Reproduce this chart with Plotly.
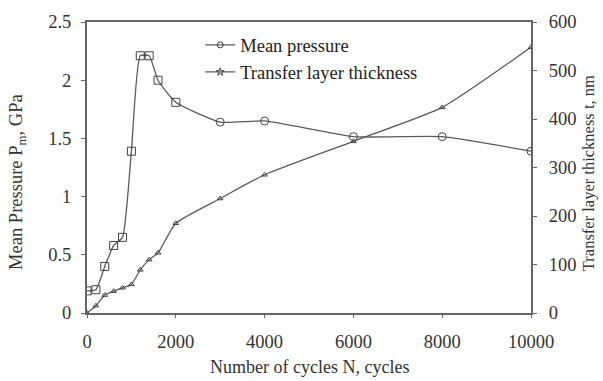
import plotly.graph_objects as go

cycles_p = [0, 200, 400, 600, 800, 1000, 1200, 1400, 1600, 2000, 3000, 4000, 6000, 8000, 10000]
pressure = [0.19, 0.20, 0.40, 0.58, 0.65, 1.39, 2.21, 2.21, 2.00, 1.81, 1.64, 1.65, 1.515, 1.515, 1.39]

cycles_t = [0, 200, 400, 600, 800, 1000, 1200, 1400, 1600, 2000, 3000, 4000, 6000, 8000, 10000]
thickness = [0, 15, 37, 45, 52, 59, 89, 110, 124, 185, 236, 285, 354, 424, 548]

x_ticks = [0, 2000, 4000, 6000, 8000, 10000]
y_ticks = [0, 0.5, 1, 1.5, 2, 2.5]
y_ticktext = ["0", "0.5", "1", "1.5", "2", "2.5"]
y2_ticks = [0, 100, 200, 300, 400, 500, 600]

serif = "Liberation Serif"
line_col = "#5a5a5a"
txt_col = "#333"
fs = 18.5

# pressure markers look square at the early points and round later
p_symbols = ["square-open"] * 10 + ["circle-open"] * 5

fig = go.Figure()
fig.add_trace(go.Scatter(
    x=cycles_p, y=pressure, name="Mean pressure", mode="lines+markers", showlegend=False,
    line=dict(color=line_col, width=1.3, shape="spline", smoothing=0.5),
    marker=dict(symbol=p_symbols, size=8, color="#444", line=dict(width=1)),
))
fig.add_trace(go.Scatter(
    x=cycles_t, y=thickness, name="Transfer layer thickness", mode="lines+markers",
    yaxis="y2", showlegend=False,
    line=dict(color=line_col, width=1.3, shape="spline", smoothing=0.5),
    marker=dict(symbol="triangle-up-open", size=5, color="#444", line=dict(width=1)),
))
# legend entries
fig.add_trace(go.Scatter(
    x=[None], y=[None], name="Mean pressure", mode="lines+markers",
    line=dict(color=line_col, width=1.3),
    marker=dict(symbol="circle-open", size=6, color="#444", line=dict(width=1)),
))
fig.add_trace(go.Scatter(
    x=[None], y=[None], name="Transfer layer thickness", mode="lines+markers",
    line=dict(color=line_col, width=1.3),
    marker=dict(symbol="star-open", size=6, color="#444", line=dict(width=1)),
))

fig.update_layout(
    width=603, height=381,
    margin=dict(l=87, r=72, t=20, b=68),
    paper_bgcolor="white", plot_bgcolor="white",
    showlegend=True,
    legend=dict(x=0.255, y=0.985, xanchor="left", yanchor="top",
                font=dict(family=serif, size=fs, color="#222"),
                bgcolor="rgba(0,0,0,0)", itemwidth=30, tracegroupgap=0),
    xaxis=dict(
        range=[0, 10000], tickvals=x_ticks, ticktext=[str(v) for v in x_ticks],
        showgrid=False, zeroline=False, showline=True, linecolor="#666", linewidth=2,
        ticks="outside", ticklen=3, tickcolor="#666", ticklabelstandoff=8,
        tickfont=dict(family=serif, size=fs, color=txt_col),
        mirror=True,
    ),
    yaxis=dict(
        range=[0, 2.5], tickvals=y_ticks, ticktext=y_ticktext,
        showgrid=False, zeroline=False, showline=True, linecolor="#666", linewidth=2,
        ticks="outside", ticklen=4, tickcolor="#666", ticklabelstandoff=6,
        tickfont=dict(family=serif, size=fs, color=txt_col),
    ),
    yaxis2=dict(
        range=[0, 600], tickvals=y2_ticks, overlaying="y", side="right",
        showgrid=False, zeroline=False, showline=True, linecolor="#666", linewidth=2,
        ticks="outside", ticklen=4, tickcolor="#666", ticklabelstandoff=8,
        tickfont=dict(family=serif, size=fs, color=txt_col),
    ),
    annotations=[
        dict(text="Number of cycles N, cycles", xref="paper", yref="paper",
             x=0.5, y=-0.185, xanchor="center", yanchor="middle", showarrow=False,
             font=dict(family=serif, size=18, color=txt_col)),
        dict(text="Mean Pressure P<sub>m</sub>, GPa", xref="paper", yref="paper",
             x=-0.158, y=0.45, xanchor="center", yanchor="middle", showarrow=False,
             textangle=-90, font=dict(family=serif, size=18.5, color=txt_col)),
        dict(text="Transfer layer thickness t, nm", xref="paper", yref="paper",
             x=1.128, y=0.48, xanchor="center", yanchor="middle", showarrow=False,
             textangle=-90, font=dict(family=serif, size=16.5, color=txt_col)),
    ],
)

fig.write_html("out.html")
